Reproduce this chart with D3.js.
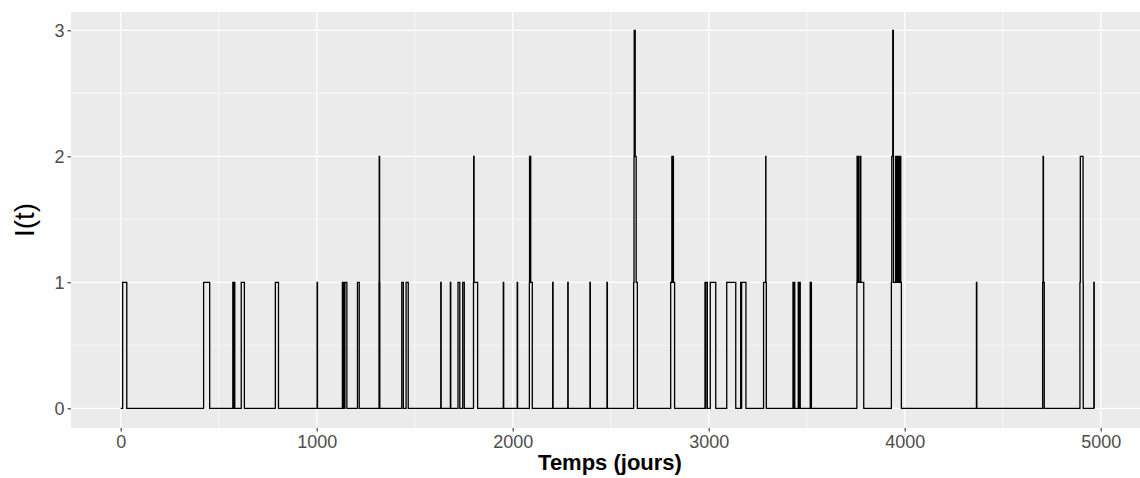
<!DOCTYPE html>
<html>
<head>
<meta charset="utf-8">
<script src="https://cdn.jsdelivr.net/npm/d3@7"></script>
<style>
  body { margin: 0; background: #fff; }
  text { font-family: "Liberation Sans", Arial, Helvetica, sans-serif; }
</style>
</head>
<body>
<div id="chart"></div>
<script>
// step function I(t): value holds from each time until the next one
const stepTimes = [
  0, 10, 31, 423, 454, 572, 575, 578, 582, 615, 631, 789, 805, 1002, 1004,
  1131, 1133, 1136, 1138, 1144, 1154, 1208, 1217,
  1318, 1319, 1321, 1322, 1434, 1442, 1456, 1467, 1633, 1635, 1682, 1684,
  1721, 1730, 1745, 1753, 1800, 1801, 1803, 1821,
  1952, 1954, 2023, 2025,
  2085, 2086, 2088, 2089, 2092, 2100,
  2204, 2206, 2281, 2283, 2394, 2396, 2481, 2483,
  2617, 2619, 2620, 2622, 2623, 2625, 2630, 2636,
  2806, 2812, 2815, 2816, 2820, 2826,
  2981, 2983, 2985, 2993, 3008, 3036, 3092, 3138,
  3163, 3165, 3168, 3190,
  3280, 3291, 3292, 3294,
  3430, 3432, 3437, 3439, 3457, 3459, 3463, 3467, 3518, 3524,
  3756, 3757, 3760, 3761, 3764, 3772, 3776, 3791,
  3932, 3934, 3939, 3942, 3943, 3954, 3956, 3958, 3960, 3962, 3964, 3966,
  3968, 3970, 3972, 3974, 3976, 3978, 3980, 3983,
  4366, 4368,
  4704, 4706, 4708, 4712,
  4894, 4896, 4910, 4911,
  4965, 4967
];
const stepValues = [
  0, 1, 0, 1, 0, 1, 0, 1, 0, 1, 0, 1, 0, 1, 0,
  1, 0, 1, 0, 1, 0, 1, 0,
  1, 2, 1, 0, 1, 0, 1, 0, 1, 0, 1, 0,
  1, 0, 1, 0, 1, 2, 1, 0,
  1, 0, 1, 0,
  1, 2, 1, 2, 1, 0,
  1, 0, 1, 0, 1, 0, 1, 0,
  1, 2, 3, 2, 3, 2, 1, 0,
  1, 2, 1, 2, 1, 0,
  1, 0, 1, 0, 1, 0, 1, 0,
  1, 0, 1, 0,
  1, 2, 1, 0,
  1, 0, 1, 0, 1, 0, 1, 0, 1, 0,
  1, 2, 1, 2, 1, 2, 1, 0,
  1, 2, 3, 2, 1, 2, 1, 2, 1, 2, 1, 2,
  1, 2, 1, 2, 1, 2, 1, 0,
  1, 0,
  1, 2, 1, 0,
  1, 2, 1, 0,
  1, 0
];

const xTicks = [0, 1000, 2000, 3000, 4000, 5000];
const xMinor = [500, 1500, 2500, 3500, 4500];
const yTicks = [0, 1, 2, 3];
const yMinor = [0.5, 1.5, 2.5];

const xTitle = "Temps (jours)";
const yTitle = "I(t)";

const W = 1140, H = 478;
const panel = {left: 71, right: 1150, top: 12, bottom: 428};

const x = d3.scaleLinear().domain([0, 5000]).range([120.7, 1100.7]);
const y = d3.scaleLinear().domain([0, 3]).range([408.3, 30.3]);

const svg = d3.select("#chart").append("svg")
  .attr("width", W)
  .attr("height", H);

svg.append("clipPath").attr("id", "clip")
  .append("rect")
  .attr("x", panel.left).attr("y", panel.top)
  .attr("width", panel.right - panel.left)
  .attr("height", panel.bottom - panel.top);

svg.append("rect")
  .attr("x", panel.left).attr("y", panel.top)
  .attr("width", panel.right - panel.left)
  .attr("height", panel.bottom - panel.top)
  .attr("fill", "#EBEBEB");

const grid = svg.append("g");

grid.selectAll(".xmin").data(xMinor).enter().append("line")
  .attr("x1", d => x(d)).attr("x2", d => x(d))
  .attr("y1", panel.top).attr("y2", panel.bottom)
  .attr("stroke", "#fff").attr("stroke-width", 0.6);

grid.selectAll(".ymin").data(yMinor).enter().append("line")
  .attr("x1", panel.left).attr("x2", panel.right)
  .attr("y1", d => y(d)).attr("y2", d => y(d))
  .attr("stroke", "#fff").attr("stroke-width", 0.6);

grid.selectAll(".xmaj").data(xTicks).enter().append("line")
  .attr("x1", d => x(d)).attr("x2", d => x(d))
  .attr("y1", panel.top).attr("y2", panel.bottom)
  .attr("stroke", "#fff").attr("stroke-width", 1.2);

grid.selectAll(".ymaj").data(yTicks).enter().append("line")
  .attr("x1", panel.left).attr("x2", panel.right)
  .attr("y1", d => y(d)).attr("y2", d => y(d))
  .attr("stroke", "#fff").attr("stroke-width", 1.2);

// the step line
const pts = stepTimes.map((t, i) => [t, stepValues[i]]);
const line = d3.line()
  .x(d => x(d[0]))
  .y(d => y(d[1]))
  .curve(d3.curveStepAfter);

svg.append("path")
  .datum(pts)
  .attr("clip-path", "url(#clip)")
  .attr("d", line)
  .attr("fill", "none")
  .attr("stroke", "#000")
  .attr("stroke-width", 1.3);

// axes
const xAxis = svg.append("g")
  .attr("transform", `translate(0,${panel.bottom})`)
  .call(d3.axisBottom(x).tickValues(xTicks).tickFormat(d3.format("d")).tickSize(3.5).tickPadding(4));
const yAxis = svg.append("g")
  .attr("transform", `translate(${panel.left},0)`)
  .call(d3.axisLeft(y).tickValues(yTicks).tickFormat(d3.format("d")).tickSize(3.5).tickPadding(3));

[xAxis, yAxis].forEach(a => {
  a.select(".domain").remove();
  a.selectAll(".tick line").attr("stroke", "#333333").attr("stroke-width", 1.1);
  a.selectAll(".tick text")
    .attr("fill", "#4D4D4D")
    .style("font-size", "18px")
    .style("font-family", "'Liberation Sans', Arial, sans-serif");
});

svg.append("text")
  .attr("x", 610)
  .attr("y", 470)
  .attr("text-anchor", "middle")
  .style("font-size", "22px")
  .style("font-weight", "bold")
  .attr("fill", "#000")
  .text(xTitle);

svg.append("text")
  .attr("transform", `translate(34,${(panel.top + panel.bottom) / 2}) rotate(-90)`)
  .attr("text-anchor", "middle")
  .style("font-size", "28px")
  .attr("fill", "#000")
  .text(yTitle);
</script>
</body>
</html>
